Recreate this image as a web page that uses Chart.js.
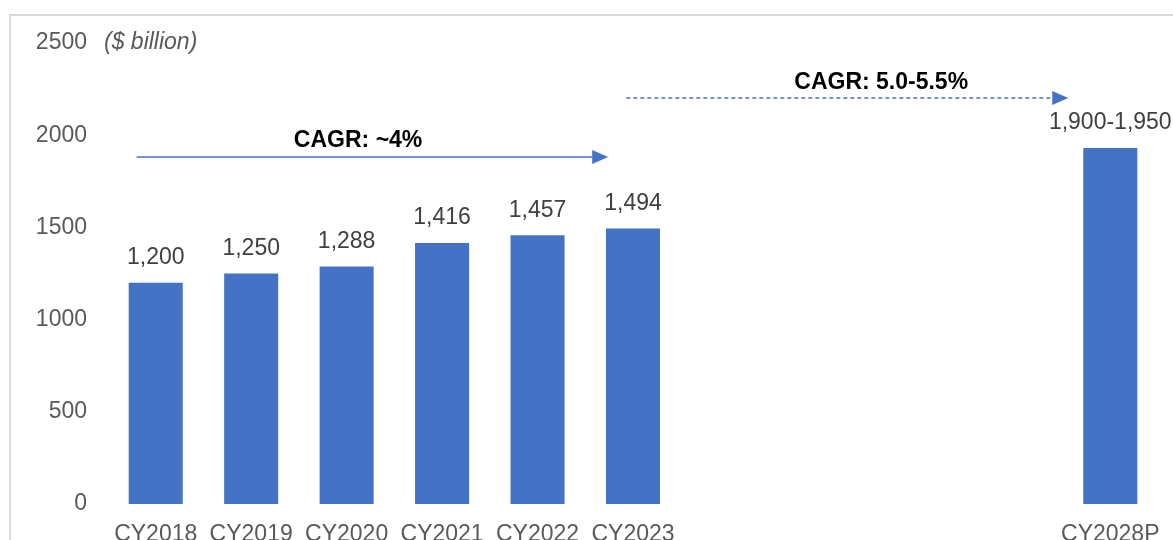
<!DOCTYPE html>
<html>
<head>
<meta charset="utf-8">
<script src="https://cdn.jsdelivr.net/npm/chart.js@4/dist/chart.umd.min.js"></script>
<style>
  html, body { margin: 0; padding: 0; background: #fff; overflow: hidden; }
  #wrap { position: relative; width: 1173px; height: 540px; }
  #frame { position: absolute; left: 9px; top: 14px; width: 2000px; height: 2000px; border: 2px solid #d9d9d9; box-sizing: border-box; }
  #chart { position: absolute; left: 0; top: 0; }
</style>
</head>
<body>
<div id="wrap">
  <div id="frame"></div>
  <canvas id="chart" width="1173" height="560"></canvas>
</div>
<script>
/** Years on the x axis (blank slots keep the gap before the projection) */
const years = ['CY2018', 'CY2019', 'CY2020', 'CY2021', 'CY2022', 'CY2023', '', '', '', '', 'CY2028P'];
/** Market size, $ billion */
const marketSize = [1200, 1250, 1288, 1416, 1457, 1494, null, null, null, null, 1930];
/** Text printed above each bar */
const valueLabels = ['1,200', '1,250', '1,288', '1,416', '1,457', '1,494', '', '', '', '', '1,900-1,950'];
/** Y axis ticks */
const yTicks = [0, 500, 1000, 1500, 2000, 2500];

/** CAGR arrows, in axis units (x = category index, y = value) */
const cagrTexts = ['CAGR: ~4%', 'CAGR: 5.0-5.5%'];
const cagrFrom = [-0.2, 4.93];
const cagrTo = [4.74, 9.56];
const cagrLevel = [1882, 2202];
const cagrTextX = [2.12, 7.6];
const cagrTextY = [1969, 2283];
const cagrDashed = [false, true];

const BLUE = '#4472C4';
const FONT = '"Liberation Sans", Arial, sans-serif';

const valueLabelPlugin = {
  id: 'valueLabels',
  afterDatasetsDraw(chart) {
    const ctx = chart.ctx;
    const meta = chart.getDatasetMeta(0);
    ctx.save();
    ctx.font = `23px ${FONT}`;
    ctx.fillStyle = '#404040';
    ctx.textAlign = 'center';
    ctx.textBaseline = 'middle';
    meta.data.forEach((bar, i) => {
      if (marketSize[i] == null) return;
      ctx.fillText(valueLabels[i], bar.x, bar.y - 25);
    });
    ctx.restore();
  }
};

const cagrPlugin = {
  id: 'cagrArrows',
  afterDraw(chart) {
    const ctx = chart.ctx;
    const x = chart.scales.x;
    const y = chart.scales.y;
    ctx.save();
    cagrTexts.forEach((text, i) => {
      const x0 = x.getPixelForValue(cagrFrom[i]);
      const x1 = x.getPixelForValue(cagrTo[i]);
      const yy = y.getPixelForValue(cagrLevel[i]);
      const head = 16;
      ctx.strokeStyle = BLUE;
      ctx.fillStyle = BLUE;
      ctx.lineWidth = 1.5;
      ctx.setLineDash(cagrDashed[i] ? [4, 3] : []);
      ctx.beginPath();
      ctx.moveTo(x0, yy);
      ctx.lineTo(x1 - head, yy);
      ctx.stroke();
      ctx.setLineDash([]);
      ctx.beginPath();
      ctx.moveTo(x1, yy);
      ctx.lineTo(x1 - head, yy - 7);
      ctx.lineTo(x1 - head, yy + 7);
      ctx.closePath();
      ctx.fill();

      ctx.font = `bold 23px ${FONT}`;
      ctx.fillStyle = '#000';
      ctx.textAlign = 'center';
      ctx.textBaseline = 'middle';
      ctx.fillText(text, x.getPixelForValue(cagrTextX[i]), y.getPixelForValue(cagrTextY[i]));
    });

    // unit note next to the top tick
    ctx.font = `italic 23px ${FONT}`;
    ctx.fillStyle = '#595959';
    ctx.textAlign = 'left';
    ctx.textBaseline = 'middle';
    ctx.fillText('($ billion)', 104, y.getPixelForValue(2500));
    ctx.restore();
  }
};

new Chart(document.getElementById('chart'), {
  type: 'bar',
  data: {
    labels: years,
    datasets: [{
      data: marketSize,
      backgroundColor: BLUE,
      borderWidth: 0,
      barPercentage: 1,
      categoryPercentage: 0.566,
    }]
  },
  options: {
    responsive: false,
    animation: false,
    layout: {
      padding: { left: 0, top: 43, right: 15, bottom: 0 }
    },
    scales: {
      x: {
        grid: { display: false, drawTicks: false },
        border: { display: false },
        ticks: {
          color: '#595959',
          font: { size: 23, family: FONT },
          padding: 17,
          autoSkip: false,
          maxRotation: 0,
        },
        afterFit: (scale) => {
          scale.height = 56;
          scale.paddingLeft = 0;
          scale.paddingRight = 0;
        },
      },
      y: {
        min: 0,
        max: 2500,
        afterBuildTicks: (scale) => { scale.ticks = yTicks.map(v => ({ value: v })); },
        grid: { display: false, drawTicks: false },
        border: { display: false },
        ticks: {
          color: '#595959',
          font: { size: 23, family: FONT },
          padding: 21,
          callback: (value) => String(value),
        },
        afterFit: (scale) => { scale.width = 108; },
      }
    },
    plugins: {
      legend: { display: false },
      tooltip: { enabled: false },
    }
  },
  plugins: [valueLabelPlugin, cagrPlugin],
});
</script>
</body>
</html>
